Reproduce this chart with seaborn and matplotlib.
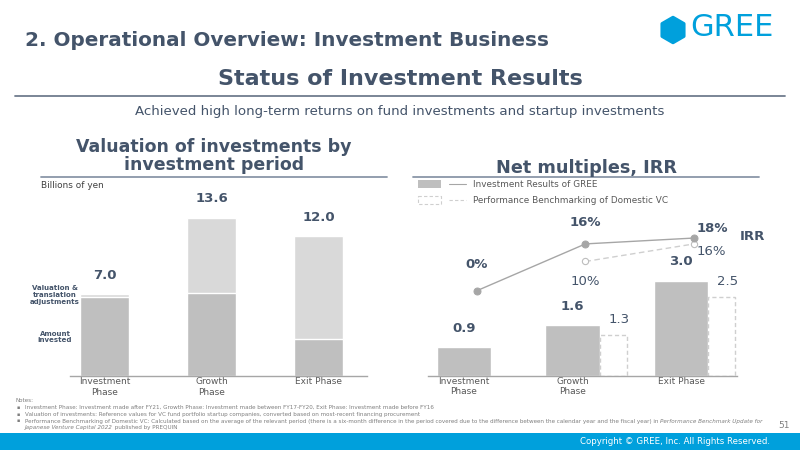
import numpy as np
import pandas as pd
import matplotlib
matplotlib.use("Agg")
import matplotlib.pyplot as plt
import seaborn as sns
from matplotlib.patches import Rectangle, RegularPolygon

sns.set_theme(style="white")
plt.rcParams['font.family'] = ['DejaVu Sans']

# ---- data ----
phases = ["Investment\nPhase", "Growth\nPhase", "Exit Phase"]
amount_invested = [6.8, 7.1, 3.2]
valuation_adj = [0.2, 6.5, 8.8]
valuation_total = [7.0, 13.6, 12.0]

multiple_gree = [0.9, 1.6, 3.0]
multiple_bench = [1.3, 2.5]          # growth, exit
irr_gree = [0, 16, 18]
irr_bench = [np.nan, 10, 16]

TXT = "#44546A"
DARK_BAR = "#BFBFBF"
LIGHT_BAR = "#D9D9D9"
BENCH = "#CFCFCF"
GREE_BLUE = "#00A0DC"

fig = plt.figure(figsize=(8, 4.5), dpi=100)

# overlay in pixel coordinates for the slide decoration
deco = fig.add_axes([0, 0, 1, 1], zorder=-1)
deco.set_xlim(0, 800)
deco.set_ylim(450, 0)
deco.axis("off")

deco.text(25, 41, "2. Operational Overview: Investment Business", fontsize=14.4,
          fontweight="bold", color=TXT, va="center", ha="left")
deco.text(400, 79, "Status of Investment Results", fontsize=16,
          fontweight="bold", color=TXT, va="center", ha="center")
deco.plot([15, 785], [96, 96], color="#6F7C8E", lw=1.3)
deco.text(400, 111, "Achieved high long-term returns on fund investments and startup investments",
          fontsize=9.6, color=TXT, va="center", ha="center")

# logo
deco.add_patch(RegularPolygon((673, 30), numVertices=6, radius=12.5, orientation=0,
                              facecolor=GREE_BLUE, edgecolor=GREE_BLUE, lw=2.5,
                              joinstyle="round"))
deco.text(690, 28, "GREE", fontsize=22, color=GREE_BLUE, va="center", ha="left")

# panel titles
deco.text(214, 156, "Valuation of investments by\ninvestment period", fontsize=12.5,
          fontweight="bold", color=TXT, va="center", ha="center", linespacing=1.05)
deco.plot([41, 387], [177, 177], color="#8A96A8", lw=1.3)
deco.text(586, 168, "Net multiples, IRR", fontsize=12.7,
          fontweight="bold", color=TXT, va="center", ha="center")
deco.plot([413, 759], [177, 177], color="#8A96A8", lw=1.3)

deco.text(41, 185, "Billions of yen", fontsize=6.4, color="#404040", va="center", ha="left")
deco.text(55, 295, "Valuation &\ntranslation\nadjustments", fontsize=5, fontweight="bold",
          color=TXT, va="center", ha="center", linespacing=1.2)
deco.text(55, 337, "Amount\ninvested", fontsize=5, fontweight="bold",
          color=TXT, va="center", ha="center", linespacing=1.2)

# legend (right panel)
deco.add_patch(Rectangle((418, 180), 23, 8, facecolor=DARK_BAR, edgecolor="none"))
deco.plot([449, 466], [184, 184], color="#A6A6A6", lw=0.8)
deco.text(473, 184.5, "Investment Results of GREE", fontsize=6.4, color="#595959", va="center")
deco.add_patch(Rectangle((418, 196), 23, 8, facecolor="none", edgecolor=BENCH, lw=0.8, ls=(0, (3, 2))))
deco.plot([449, 466], [200, 200], color=BENCH, lw=0.8, ls=(0, (3, 2)))
deco.text(473, 200.5, "Performance Benchmarking of Domestic VC", fontsize=6.4, color="#595959", va="center")

deco.text(740, 237, "IRR", fontsize=9.5, fontweight="bold", color=TXT, va="center", ha="left")

# ---- left chart: stacked valuation ----
ax1 = fig.add_axes([70 / 800, 1 - 376 / 450, 297 / 800, 186 / 450])
left_df = pd.DataFrame({"phase": phases, "total": valuation_total, "invested": amount_invested})
sns.barplot(data=left_df, x="phase", y="total", color=LIGHT_BAR, width=0.46,
            saturation=1, ax=ax1)
sns.barplot(data=left_df, x="phase", y="invested", color=DARK_BAR, width=0.46,
            saturation=1, ax=ax1)
for i, v in enumerate(valuation_total):
    ax1.annotate(f"{v:.1f}", (i, v), xytext=(0, 9), textcoords="offset points",
                 ha="center", va="bottom", fontsize=9.5, fontweight="bold", color=TXT)
ax1.set_xlim(-0.322, 2.453)
ax1.set_ylim(0, 186 / 11.65)

# ---- right chart: multiples + IRR ----
ax2 = fig.add_axes([428 / 800, 1 - 375.7 / 450, 309 / 800, 185.7 / 450])
right_df = pd.DataFrame({"phase": phases, "gree": multiple_gree})
sns.barplot(data=right_df, x="phase", y="gree", color=DARK_BAR, width=0.5,
            saturation=1, ax=ax2)
bench_x = np.arange(1, 3) + 0.375
ax2.bar(bench_x, multiple_bench, width=0.25, facecolor="none", edgecolor=BENCH,
        lw=1.0, ls=(0, (3, 2)))
for i, v in enumerate(multiple_gree):
    ax2.annotate(f"{v:.1f}", (i, v), xytext=(0, 9), textcoords="offset points",
                 ha="center", va="bottom", fontsize=9.5, fontweight="bold", color=TXT)
for x, v in zip(bench_x, multiple_bench):
    ax2.annotate(f"{v:.1f}", (x, v), xytext=(4, 6), textcoords="offset points",
                 ha="center", va="bottom", fontsize=9.5, color=TXT)
ax2.set_xlim(-0.329, 2.515)
ax2.set_ylim(0, 185.7 / 31.6)

ax3 = ax2.twinx()
irr_x = np.arange(3) + 0.12
sns.lineplot(x=irr_x, y=irr_bench, ax=ax3, color=BENCH, lw=1.0, ls=(0, (4, 2.5)),
             marker="o", markersize=4.5, markerfacecolor="white",
             markeredgecolor="#BDBDBD", markeredgewidth=0.8)
sns.lineplot(x=irr_x, y=irr_gree, ax=ax3, color="#A6A6A6", lw=1.0,
             marker="o", markersize=5, markerfacecolor="#A6A6A6", markeredgecolor="#A6A6A6")
ax3.set_ylim(-29, 34.4)
ax3.set_xlim(-0.329, 2.515)
ax3.axis("off")

ax3.annotate(f"{irr_gree[0]}%", (irr_x[0], irr_gree[0]), xytext=(0, 14), textcoords="offset points",
             ha="center", va="bottom", fontsize=9.5, fontweight="bold", color=TXT)
ax3.annotate(f"{irr_gree[1]}%", (irr_x[1], irr_gree[1]), xytext=(0, 11), textcoords="offset points",
             ha="center", va="bottom", fontsize=9.5, fontweight="bold", color=TXT)
ax3.annotate(f"{irr_gree[2]}%", (irr_x[2], irr_gree[2]), xytext=(2, 2), textcoords="offset points",
             ha="left", va="bottom", fontsize=9.5, fontweight="bold", color=TXT)
ax3.annotate(f"{irr_bench[1]:.0f}%", (irr_x[1], irr_bench[1]), xytext=(0, -10), textcoords="offset points",
             ha="center", va="top", fontsize=9.5, color=TXT)
ax3.annotate(f"{irr_bench[2]:.0f}%", (irr_x[2], irr_bench[2]), xytext=(2, -1), textcoords="offset points",
             ha="left", va="top", fontsize=9.5, color=TXT)

for ax in (ax1, ax2):
    sns.despine(ax=ax, left=True)
    ax.spines["bottom"].set_color("#A6A6A6")
    ax.spines["bottom"].set_linewidth(1.0)
    ax.set_yticks([])
    ax.set_xlabel("")
    ax.set_ylabel("")
    ax.tick_params(axis="x", length=0, pad=1, labelsize=6.5, labelcolor="#595959")
    ax.patch.set_alpha(0)

# ---- notes and footer ----
note_c = "#7F7F7F"
deco.text(15, 401, "Notes:", fontsize=4.1, color=note_c, va="center")
notes = [
    "Investment Phase: Investment made after FY21, Growth Phase: Investment made between FY17-FY20, Exit Phase: Investment made before FY16",
    "Valuation of investments: Reference values for VC fund portfolio startup companies, converted based on most-recent financing procurement",
    "Performance Benchmarking of Domestic VC: Calculated based on the average of the relevant period (there is a six-month difference in the period covered due to the difference between the calendar year and the fiscal year) in ",
]
note_y = [407.5, 414.5, 421]
for y, s in zip(note_y, notes):
    deco.text(17, y, "▪", fontsize=3.5, color=note_c, va="center")
    last = deco.text(25, y, s, fontsize=4.1, color=note_c, va="center")

renderer = fig.canvas.get_renderer()
bb = last.get_window_extent(renderer)
x_end = bb.x1 * 800 / fig.bbox.width
deco.text(x_end, note_y[2], "Performance Benchmark Update for", fontsize=4.1, style="italic",
          color=note_c, va="center")
t4 = deco.text(25, 427.5, "Japanese Venture Capital 2022", fontsize=4.1, style="italic",
               color=note_c, va="center")
bb4 = t4.get_window_extent(renderer)
deco.text(bb4.x1 * 800 / fig.bbox.width, 427.5, " published by PREQUIN", fontsize=4.1,
          color=note_c, va="center")

deco.text(790, 425, "51", fontsize=6.5, color="#7F7F7F", va="center", ha="right")
deco.add_patch(Rectangle((0, 433), 800, 17, facecolor=GREE_BLUE, edgecolor="none"))
deco.text(770, 441.5, "Copyright © GREE, Inc. All Rights Reserved.", fontsize=6.2,
          color="white", va="center", ha="right")

fig.savefig("out.png", dpi=100)
